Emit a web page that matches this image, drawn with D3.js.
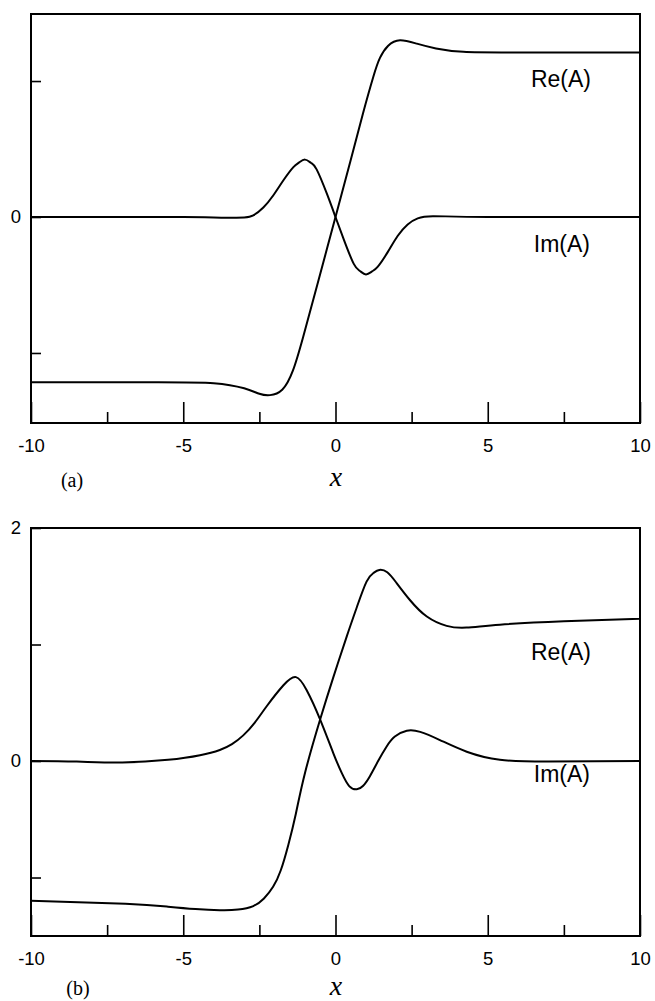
<!DOCTYPE html>
<html><head><meta charset="utf-8">
<script src="https://cdn.jsdelivr.net/npm/d3@7"></script>
<style>body{margin:0;background:#fff}svg{display:block}</style>
</head><body>
<svg id="c" width="655" height="1001"></svg>
<script>
// ---- Panel (a) data ----
const reA_x = [-10, -6, -4, -3, -2.5, -2.15, -1.75, -1.4, -1.06, -0.6, 0, 0.5, 0.9, 1.24, 1.46, 1.73, 2.12, 2.67, 3.3, 4.2, 6, 10];
const reA_y = [-1.215, -1.215, -1.222, -1.26, -1.30, -1.31, -1.27, -1.13, -0.88, -0.50, 0, 0.42, 0.76, 1.03, 1.17, 1.26, 1.30, 1.275, 1.24, 1.215, 1.21, 1.21];
const imA_x = [-10, -5, -3.6, -3.0, -2.7, -2.37, -2.04, -1.71, -1.39, -1.2, -1.0, -0.8, -0.62, -0.29, 0, 0.28, 0.6, 0.8, 1.0, 1.2, 1.39, 1.71, 2.04, 2.37, 2.7, 3.2, 5, 10];
const imA_y = [0, 0, -0.006, -0.003, 0.012, 0.07, 0.16, 0.27, 0.365, 0.40, 0.422, 0.397, 0.35, 0.175, 0, -0.17, -0.345, -0.397, -0.422, -0.40, -0.365, -0.26, -0.14, -0.055, -0.01, 0.006, 0, 0];

// ---- Panel (b) data ----
const reB_x = [-10, -6.9, -5.5, -4.6, -3.8, -3.2, -2.7, -2.35, -2.05, -1.8, -1.55, -1.3, -1.0, -0.5, -0.07, 0.37, 0.7, 1.02, 1.25, 1.44, 1.7, 2.0, 2.45, 3.0, 3.65, 4.3, 5.4, 7.5, 10];
const reB_y = [-1.2, -1.225, -1.25, -1.27, -1.28, -1.275, -1.245, -1.18, -1.08, -0.94, -0.72, -0.45, -0.1, 0.36, 0.72, 1.07, 1.32, 1.54, 1.615, 1.64, 1.62, 1.53, 1.38, 1.24, 1.16, 1.145, 1.17, 1.2, 1.22];
const imB_x = [-10, -8.5, -7, -5.5, -4.45, -3.8, -3.4, -3.03, -2.65, -2.26, -1.71, -1.3, -0.95, -0.51, -0.07, 0.2, 0.45, 0.7, 0.9, 1.13, 1.4, 1.68, 1.95, 2.34, 2.78, 3.43, 4.31, 5.4, 7, 10];
const imB_y = [0, -0.005, -0.012, 0.01, 0.05, 0.095, 0.145, 0.22, 0.33, 0.47, 0.65, 0.72, 0.61, 0.36, 0.066, -0.1, -0.215, -0.243, -0.215, -0.13, 0.0, 0.125, 0.21, 0.26, 0.25, 0.18, 0.08, 0.01, -0.005, 0];

// ---- Ticks ----
const xMajorTicks = [-10, -5, 0, 5, 10];
const xMinorTicks = [-7.5, -2.5, 2.5, 7.5];
const yTicksA = [-1, 0, 1];
const yLabelsA = ["0"];
const yTicksB = [-1, 0, 1, 2];
const yLabelsB = ["0", "2"];
const seriesLabels = ["Re(A)", "Im(A)"];
const panelLabels = ["(a)", "(b)"];
const xTitle = "x";

const svg = d3.select("#c");
const sans = "'Liberation Sans', Arial, Helvetica, sans-serif";
const serif = "'Liberation Serif', 'Times New Roman', serif";

function drawPanel(cfg) {
  const x = d3.scaleLinear().domain([-10, 10]).range([31, 640]);
  const y = d3.scaleLinear().domain(cfg.yDomain).range([cfg.bottom, cfg.top]);
  const g = svg.append("g");

  // major x ticks with labels
  const axM = d3.axisBottom(x).tickValues(xMajorTicks).tickSize(-21).tickPadding(16)
    .tickFormat(d => String(d));
  const gM = g.append("g").attr("transform", `translate(0,${cfg.bottom})`).call(axM);
  gM.select(".domain").remove();
  gM.selectAll("line").attr("stroke", "#000").attr("stroke-width", 1.6);
  gM.selectAll("text").attr("font-family", sans).attr("font-size", 18.5).attr("fill", "#000");

  // minor x ticks
  const axm = d3.axisBottom(x).tickValues(xMinorTicks).tickSize(-11).tickFormat("");
  const gm = g.append("g").attr("transform", `translate(0,${cfg.bottom})`).call(axm);
  gm.select(".domain").remove();
  gm.selectAll("line").attr("stroke", "#000").attr("stroke-width", 1.6);

  // y ticks
  const ay = d3.axisLeft(y).tickValues(cfg.yTicks).tickSize(-10).tickPadding(10)
    .tickFormat(d => cfg.yLabels.includes(String(d)) ? String(d) : "");
  const gy = g.append("g").attr("transform", `translate(31,0)`).call(ay);
  gy.select(".domain").remove();
  gy.selectAll("line").attr("stroke", "#000").attr("stroke-width", 1.6);
  gy.selectAll("text").attr("font-family", sans).attr("font-size", 18.5).attr("fill", "#000");

  // frame
  g.append("rect").attr("x", 31).attr("y", cfg.top).attr("width", 609).attr("height", cfg.bottom - cfg.top)
    .attr("fill", "none").attr("stroke", "#000").attr("stroke-width", 2);

  const line = d3.line().x(d => x(d[0])).y(d => y(d[1])).curve(d3.curveNatural);
  [[cfg.reX, cfg.reY], [cfg.imX, cfg.imY]].forEach(([xs, ys]) => {
    g.append("path").datum(xs.map((v, i) => [v, ys[i]]))
      .attr("d", line).attr("fill", "none").attr("stroke", "#000").attr("stroke-width", 2);
  });

  g.append("text").attr("x", 591).attr("y", cfg.reLabelY).attr("text-anchor", "end").text(seriesLabels[0])
    .attr("font-family", sans).attr("font-size", 23).attr("fill", "#000");
  g.append("text").attr("x", 590).attr("y", cfg.imLabelY).attr("text-anchor", "end").text(seriesLabels[1])
    .attr("font-family", sans).attr("font-size", 23).attr("fill", "#000");

  g.append("text").attr("x", cfg.panelX).attr("y", cfg.panelY).attr("text-anchor", "middle")
    .text(cfg.panel).attr("font-family", serif).attr("font-size", 20).attr("fill", "#000");
  g.append("text").attr("x", 336).attr("y", cfg.xTitleY).attr("text-anchor", "middle")
    .text(xTitle).attr("font-family", serif).attr("font-style", "italic").attr("font-size", 28).attr("fill", "#000");
}

drawPanel({top: 14, bottom: 423, yDomain: [-1.515, 1.493], yTicks: yTicksA, yLabels: yLabelsA,
  reX: reA_x, reY: reA_y, imX: imA_x, imY: imA_y, reLabelY: 87, imLabelY: 252,
  panel: panelLabels[0], panelX: 72, panelY: 487, xTitleY: 486});
drawPanel({top: 528, bottom: 936, yDomain: [-1.502, 2], yTicks: yTicksB, yLabels: yLabelsB,
  reX: reB_x, reY: reB_y, imX: imB_x, imY: imB_y, reLabelY: 660, imLabelY: 782,
  panel: panelLabels[1], panelX: 78, panelY: 995, xTitleY: 995});
</script>
</body></html>
